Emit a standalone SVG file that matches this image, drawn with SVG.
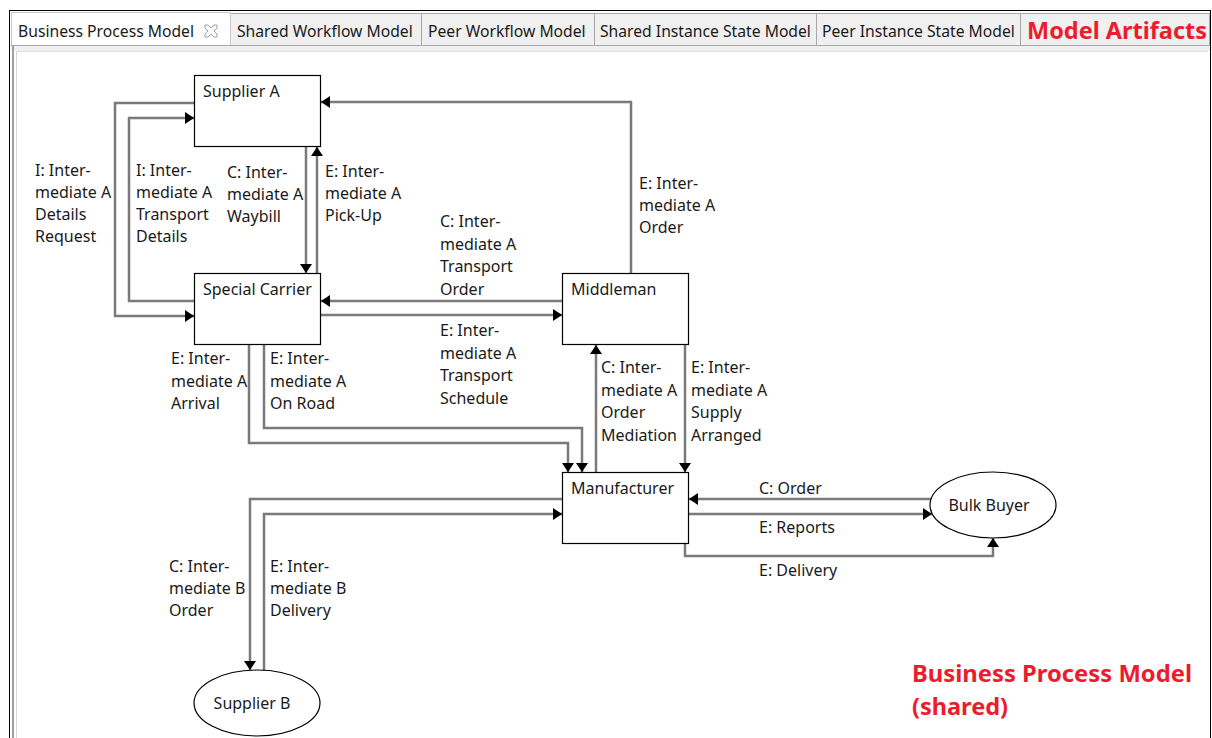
<svg xmlns="http://www.w3.org/2000/svg" width="1212" height="738" viewBox="0 0 1212 738">
<style>
.node{fill:#fff;stroke:#000;stroke-width:1.2}
.conn{fill:none;stroke:#7a7a7a;stroke-width:2.5}
.lbl{font-family:"Noto Sans","Open Sans",sans-serif;font-size:16px;fill:#1a1a1a}
.tab{font-family:"Noto Sans","Open Sans",sans-serif;font-size:15.7px;fill:#1a1a1a}
.red{font-family:"Noto Sans","Open Sans",sans-serif;font-weight:bold;font-size:24px;fill:#ec1c2c}
.tabbg{fill:#f0f0f0;stroke:#a8a8a8;stroke-width:1}
</style>
<defs>
<marker id="arr" viewBox="0 0 9 12" markerWidth="9" markerHeight="12" refX="9" refY="6" orient="auto" markerUnits="userSpaceOnUse">
<path d="M0,0 L9,6 L0,12 z" fill="#000"/>
</marker>
</defs>
<rect x="0" y="0" width="1212" height="738" fill="#fff"/>
<g id="frame">
<rect x="230.5" y="13.5" width="979" height="32" class="tabbg"/>
<path d="M11.5,46 V12.5 H230.5 V46" fill="#fff" stroke="#c8c8c8"/>
<line x1="421.5" y1="13.5" x2="421.5" y2="45.5" stroke="#a8a8a8"/>
<line x1="594.5" y1="13.5" x2="594.5" y2="45.5" stroke="#a8a8a8"/>
<line x1="816.5" y1="13.5" x2="816.5" y2="45.5" stroke="#a8a8a8"/>
<line x1="1020.5" y1="13.5" x2="1020.5" y2="45.5" stroke="#a8a8a8"/>
<rect x="11" y="46" width="1199" height="5" fill="#f0f0f0"/>
<line x1="11" y1="45.5" x2="1210" y2="45.5" stroke="#a8a8a8"/>
<line x1="16" y1="51.5" x2="1208" y2="51.5" stroke="#e0e0e0"/>
<line x1="9" y1="10.5" x2="1211" y2="10.5" stroke="#000"/>
<line x1="9.5" y1="10" x2="9.5" y2="738" stroke="#000"/>
<line x1="1210.5" y1="10" x2="1210.5" y2="738" stroke="#000"/>
<line x1="13" y1="46" x2="13" y2="738" stroke="#a0a0a0" stroke-width="2"/>
<line x1="16.5" y1="51" x2="16.5" y2="738" stroke="#d8d8d8"/>
<text class="tab" x="18" y="37">Business Process Model</text>
<path d="M205,25 L208,25 L211,28 L214,25 L217,25 L217,28 L214,31 L217,34 L217,37 L214,37 L211,34 L208,37 L205,37 L205,34 L208,31 L205,28 Z" fill="none" stroke="#a0a0a0" stroke-width="1"/>
<text class="tab" x="237" y="37">Shared Workflow Model</text>
<text class="tab" x="428" y="37">Peer Workflow Model</text>
<text class="tab" x="600" y="37">Shared Instance State Model</text>
<text class="tab" x="822" y="37">Peer Instance State Model</text>
<text class="red" x="1027" y="39" textLength="180" lengthAdjust="spacingAndGlyphs">Model Artifacts</text>
</g>
<g id="connectors">
<path class="conn" d="M194,103 H115 V316 H194" marker-end="url(#arr)"/>
<path class="conn" d="M194,301 H129 V118 H194" marker-end="url(#arr)"/>
<path class="conn" d="M306,147 V273" marker-end="url(#arr)"/>
<path class="conn" d="M317,273 V147" marker-end="url(#arr)"/>
<path class="conn" d="M631,273 V102 H321" marker-end="url(#arr)"/>
<path class="conn" d="M562,301 H321" marker-end="url(#arr)"/>
<path class="conn" d="M321,315 H562" marker-end="url(#arr)"/>
<path class="conn" d="M249,345 V443 H568 V472" marker-end="url(#arr)"/>
<path class="conn" d="M264,345 V428 H582 V472" marker-end="url(#arr)"/>
<path class="conn" d="M596,472 V345" marker-end="url(#arr)"/>
<path class="conn" d="M685,345 V472" marker-end="url(#arr)"/>
<path class="conn" d="M931,499 H689" marker-end="url(#arr)"/>
<path class="conn" d="M689,514 H932" marker-end="url(#arr)"/>
<path class="conn" d="M685,543 V556 H993 V538" marker-end="url(#arr)"/>
<path class="conn" d="M562,499 H250 V670" marker-end="url(#arr)"/>
<path class="conn" d="M264,671 V514 H562" marker-end="url(#arr)"/>
<text class="lbl" x="35" y="176">I: Inter-<tspan x="35" dy="22">mediate A</tspan><tspan x="35" dy="22">Details</tspan><tspan x="35" dy="22">Request</tspan></text>
<text class="lbl" x="136" y="176">I: Inter-<tspan x="136" dy="22">mediate A</tspan><tspan x="136" dy="22">Transport</tspan><tspan x="136" dy="22">Details</tspan></text>
<text class="lbl" x="227" y="178">C: Inter-<tspan x="227" dy="22">mediate A</tspan><tspan x="227" dy="22">Waybill</tspan></text>
<text class="lbl" x="325" y="177">E: Inter-<tspan x="325" dy="22">mediate A</tspan><tspan x="325" dy="22">Pick-Up</tspan></text>
<text class="lbl" x="639" y="189">E: Inter-<tspan x="639" dy="22">mediate A</tspan><tspan x="639" dy="22">Order</tspan></text>
<text class="lbl" x="440" y="227">C: Inter-<tspan x="440" dy="22.5">mediate A</tspan><tspan x="440" dy="22.5">Transport</tspan><tspan x="440" dy="22.5">Order</tspan></text>
<text class="lbl" x="440" y="336">E: Inter-<tspan x="440" dy="22.5">mediate A</tspan><tspan x="440" dy="22.5">Transport</tspan><tspan x="440" dy="22.5">Schedule</tspan></text>
<text class="lbl" x="171" y="364">E: Inter-<tspan x="171" dy="22.5">mediate A</tspan><tspan x="171" dy="22.5">Arrival</tspan></text>
<text class="lbl" x="270" y="364">E: Inter-<tspan x="270" dy="22.5">mediate A</tspan><tspan x="270" dy="22.5">On Road</tspan></text>
<text class="lbl" x="601" y="373">C: Inter-<tspan x="601" dy="22.5">mediate A</tspan><tspan x="601" dy="22.5">Order</tspan><tspan x="601" dy="22.5">Mediation</tspan></text>
<text class="lbl" x="691" y="373">E: Inter-<tspan x="691" dy="22.5">mediate A</tspan><tspan x="691" dy="22.5">Supply</tspan><tspan x="691" dy="22.5">Arranged</tspan></text>
<text class="lbl" x="759" y="494">C: Order</text>
<text class="lbl" x="759" y="533">E: Reports</text>
<text class="lbl" x="759" y="576">E: Delivery</text>
<text class="lbl" x="169" y="572">C: Inter-<tspan x="169" dy="22">mediate B</tspan><tspan x="169" dy="22">Order</tspan></text>
<text class="lbl" x="270" y="572">E: Inter-<tspan x="270" dy="22">mediate B</tspan><tspan x="270" dy="22">Delivery</tspan></text>
</g>
<g id="supplier-a"><rect class="node" x="194.5" y="75.5" width="126" height="71"/><text class="lbl" x="203" y="97">Supplier A</text></g>
<g id="special-carrier"><rect class="node" x="194.5" y="273.5" width="126" height="71"/><text class="lbl" x="203" y="295">Special Carrier</text></g>
<g id="middleman"><rect class="node" x="562.5" y="273.5" width="126" height="71"/><text class="lbl" x="571" y="295">Middleman</text></g>
<g id="manufacturer"><rect class="node" x="562.5" y="472.5" width="126" height="71"/><text class="lbl" x="571" y="494">Manufacturer</text></g>
<g id="bulk-buyer"><ellipse class="node" cx="993" cy="505" rx="63" ry="33"/><text class="lbl" x="989" y="511" text-anchor="middle">Bulk Buyer</text></g>
<g id="supplier-b"><ellipse class="node" cx="257" cy="703" rx="63" ry="33"/><text class="lbl" x="252" y="709" text-anchor="middle">Supplier B</text></g>
<g id="caption">
<text class="red" x="912" y="682" textLength="280" lengthAdjust="spacingAndGlyphs">Business Process Model</text>
<text class="red" x="912" y="715" textLength="96" lengthAdjust="spacingAndGlyphs">(shared)</text>
</g>
</svg>
